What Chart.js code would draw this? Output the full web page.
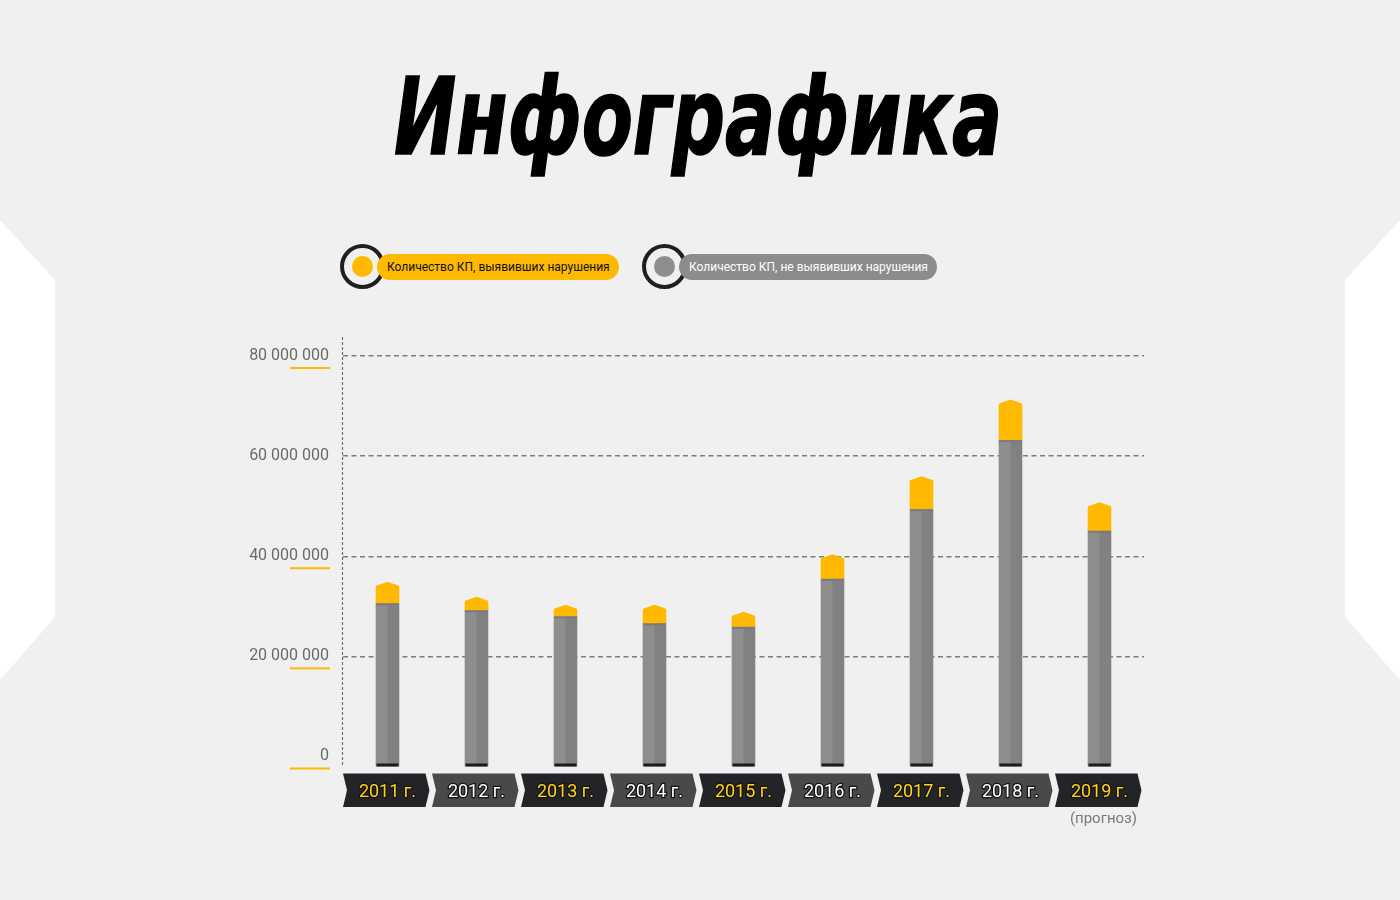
<!DOCTYPE html>
<html><head><meta charset="utf-8">
<script src="https://cdn.jsdelivr.net/npm/chart.js@4/dist/chart.umd.min.js"></script>
<style>
html,body{margin:0;padding:0;width:1400px;height:900px;background:#f0f0f0;overflow:hidden;font-family:Roboto,sans-serif}
.side{position:absolute;top:220px;width:55px;height:460px;background:#fff}
.side.l{left:0;clip-path:polygon(0 0,100% 60px,100% 397px,0 100%)}
.side.r{right:0;clip-path:polygon(100% 0,0 60px,0 397px,100% 100%)}
#title{position:absolute;left:-2px;width:1400px;top:64px;text-align:center;font:italic bold 107px "Liberation Sans Narrow","DejaVu Sans Condensed","Liberation Sans",sans-serif;line-height:107px;color:#000;white-space:nowrap;-webkit-text-stroke:1.5px #000}
#title span{display:inline-block;transform-origin:50% 50%}
#wrap{position:absolute;left:0;top:0;width:1400px;height:900px}
.lg{position:absolute;top:244px;height:46px}
.ring{position:absolute;left:0;top:0;width:37px;height:37px;border:4.5px solid #1f1f1f;border-radius:50%}
.dot{position:absolute;left:50%;top:50%;width:21px;height:21px;margin:-10.5px 0 0 -10.5px;border-radius:50%}
.pill{position:absolute;left:37px;top:10px;height:26px;border-radius:13px;padding:0 9px 0 10px;font:12px Roboto,sans-serif;line-height:26px;white-space:nowrap}
</style></head>
<body>
<div class="side l"></div><div class="side r"></div>
<div id="title"><span id="titleText">Инфографика</span></div>
<div id="wrap"><canvas id="c" width="1400" height="900"></canvas></div>
<div id="legend"></div>
<script>
// ---- data ----
const years = ['2011 г.','2012 г.','2013 г.','2014 г.','2015 г.','2016 г.','2017 г.','2018 г.','2019 г.'];
const withViolations = [3200000, 1600000, 1200000, 2600000, 1900000, 3800000, 5500000, 7000000, 4600000];
const withoutViolations = [30600000, 29200000, 28000000, 26600000, 25900000, 35500000, 49400000, 63200000, 45100000];
const yTicks = [0, 20000000, 40000000, 60000000, 80000000];
const underlinedTicks = [0, 20000000, 40000000, 80000000];
const labelWith = 'Количество КП, выявивших нарушения';
const labelWithout = 'Количество КП, не выявивших нарушения';
const forecastNote = '(прогноз)';
const titleText = 'Инфографика';

// ---- style ----
const YELLOW = '#ffb900', GREY = '#8e8e8e';
const yMin = -2000000, yMax = 84000000;
const legendCenters = [363, 665];

document.getElementById('titleText').textContent = titleText;
(function(){const s=document.getElementById('titleText');const w=s.offsetWidth;s.style.transform='scaleX('+(608/w)+')';})();

const fmt = v => String(v).replace(/\B(?=(\d{3})+(?!\d))/g, ' ');

const decor = {
  id: 'decor',
  beforeDraw(chart) {
    const {ctx, chartArea} = chart;
    const n = years.length, w = (chartArea.right - chartArea.left) / n;
    const top = chartArea.bottom + 7, bot = top + 33.5, mid = (top + bot) / 2, d = 4;
    ctx.save();
    for (let i = 0; i < n; i++) {
      const x0 = chartArea.left + i * w, x1 = x0 + w - 2.5;
      ctx.fillStyle = i % 2 === 0 ? '#232427' : '#48494b';
      ctx.beginPath();
      ctx.moveTo(x0, top); ctx.lineTo(x1 - d, top); ctx.lineTo(x1, mid);
      ctx.lineTo(x1 - d, bot); ctx.lineTo(x0, bot); ctx.lineTo(x0 + d, mid);
      ctx.closePath(); ctx.fill();
    }
    ctx.fillStyle = '#7a7a7a';
    ctx.font = '15px Roboto, sans-serif';
    ctx.textAlign = 'right'; ctx.textBaseline = 'middle';
    ctx.fillText(forecastNote, chartArea.right - 7, bot + 12);
    // y-axis dashed line
    ctx.strokeStyle = '#6f6f6f'; ctx.lineWidth = 1.2; ctx.setLineDash([3, 2]);
    ctx.beginPath(); ctx.moveTo(chartArea.left - 0.5, chartArea.top + 1); ctx.lineTo(chartArea.left - 0.5, chartArea.bottom); ctx.stroke();
    ctx.setLineDash([]);
    // underlines under y labels
    const ys = chart.scales.y;
    ctx.fillStyle = YELLOW;
    underlinedTicks.forEach(v => { const y = ys.getPixelForValue(v); ctx.fillRect(chartArea.left - 53, y + 11, 40, 2); });
    ctx.restore();
  },
  afterDatasetsDraw(chart) {
    const ctx = chart.ctx;
    ctx.save();
    chart.getDatasetMeta(0).data.forEach(bar => {
      const {x, y, base, width} = bar.getProps(['x','y','base','width'], true);
      ctx.fillStyle = 'rgba(0,0,0,0.085)';
      ctx.fillRect(x, y, width / 2, base - y);
      ctx.fillStyle = '#747a88';
      ctx.fillRect(x - width / 2, y, width, 2);
      ctx.fillStyle = '#1c1c1c';
      ctx.fillRect(x - width / 2 + 0.5, base - 3, width - 1, 3);
    });
    chart.getDatasetMeta(1).data.forEach(bar => {
      const {x, y, width} = bar.getProps(['x','y','width'], true);
      ctx.fillStyle = YELLOW;
      ctx.beginPath();
      ctx.moveTo(x - width / 2, y + 0.5); ctx.lineTo(x - width / 2, y - 1.5); ctx.lineTo(x, y - 5.5);
      ctx.lineTo(x + width / 2, y - 1.5); ctx.lineTo(x + width / 2, y + 0.5); ctx.closePath(); ctx.fill();
    });
    ctx.restore();
  }
};

const chart = new Chart(document.getElementById('c'), {
  type: 'bar',
  data: {
    labels: years,
    datasets: [
      {label: labelWithout, data: withoutViolations, base: yMin, backgroundColor: GREY, barThickness: 23, grouped: false, order: 2},
      {label: labelWith, data: withoutViolations.map((g, i) => [g, g + withViolations[i]]), backgroundColor: YELLOW, barThickness: 23, grouped: false, order: 1}
    ]
  },
  options: {
    responsive: false, animation: false, devicePixelRatio: 1,
    layout: {padding: {left: 200, right: 256, top: 336, bottom: 93.5}},
    plugins: {legend: {display: false}, tooltip: {enabled: false}},
    scales: {
      x: {
        grid: {display: false, drawTicks: false}, border: {display: false},
        afterFit: s => { s.height = 40; },
        ticks: {
          autoSkip: false, maxRotation: 0, padding: 15,
          font: {family: 'Roboto', size: 18},
          color: c => c.index % 2 === 0 ? '#ffd21a' : '#ffffff',
          textStrokeColor: '#151515', textStrokeWidth: 2.5
        }
      },
      y: {
        min: yMin, max: yMax,
        afterBuildTicks: s => { s.ticks = yTicks.map(v => ({value: v})); },
        afterFit: s => { s.width = 143; },
        grid: {drawTicks: false, lineWidth: 1.5, color: c => (c.tick && c.tick.value === 0) ? 'rgba(0,0,0,0)' : '#7c7c7c'},
        border: {display: false, dash: [5, 3.5]},
        ticks: {padding: 14, color: '#6a6a6a', font: {family: 'Roboto', size: 16, weight: 400}, callback: v => fmt(v)}
      }
    }
  },
  plugins: [decor]
});

// legend from chart datasets
const lg = document.getElementById('legend');
[1, 0].forEach((di, k) => {
  const ds = chart.data.datasets[di];
  const el = document.createElement('div');
  el.className = 'lg';
  el.style.left = (legendCenters[k] - 23) + 'px';
  const col = ds.backgroundColor;
  el.innerHTML = '<div class="ring"><div class="dot" style="background:' + col + '"></div></div>' +
    '<div class="pill" style="background:' + (di === 1 ? YELLOW : '#8c8c8c') + ';color:' + (di === 1 ? '#111' : '#fff') + '">' + ds.label + '</div>';
  lg.appendChild(el);
});
</script>
</body></html>
